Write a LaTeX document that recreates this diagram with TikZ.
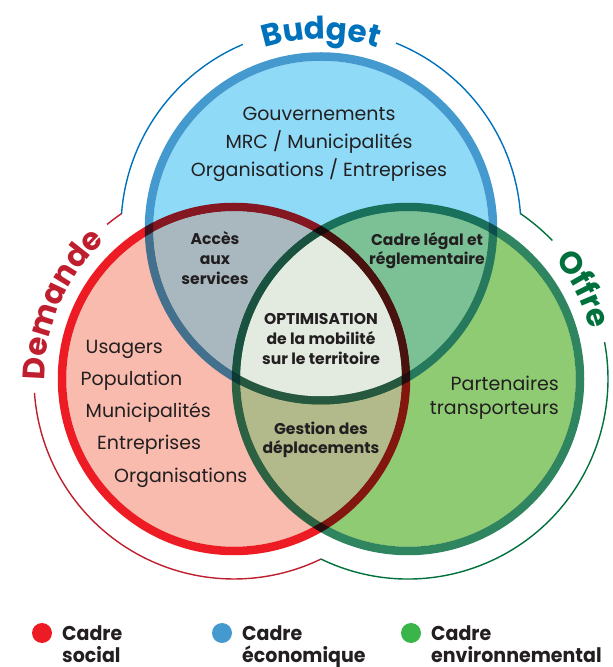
\documentclass[tikz,border=0pt]{standalone}
\usepackage{fontspec}
\setmainfont{Poppins}
\newfontfamily\narrowfont{Poppins}[FakeStretch=0.95]
\usetikzlibrary{decorations.text,positioning}

\definecolor{fillB}{HTML}{8FDAF7}
\definecolor{fillR}{HTML}{F8BBAE}
\definecolor{fillG}{HTML}{8FCB73}
\definecolor{ringB}{HTML}{4499CF}
\definecolor{ringR}{HTML}{ED1C24}
\definecolor{ringG}{HTML}{2E8560}
\definecolor{capBR}{HTML}{A9B8BF}
\definecolor{capBG}{HTML}{7CC196}
\definecolor{capRG}{HTML}{B2BA8C}
\definecolor{capBRG}{HTML}{E3EBE1}
\definecolor{rimB}{HTML}{0072BC}
\definecolor{rimR}{HTML}{BE1E2D}
\definecolor{rimG}{HTML}{00703C}
\definecolor{dotG}{HTML}{39B54A}
\definecolor{ink}{HTML}{231F20}

\tikzset{
	venn/.style={x=1pt,y=1pt},
	ring radius/.store in=\rmid, ring radius=172,
	inner radius/.store in=\rin, inner radius=167.75,
	outer radius/.store in=\rout, outer radius=176.25,
	rim radius/.store in=\rrim, rim radius=200,
	rim text radius/.store in=\rtxt, rim text radius=189,
	ring/.style={draw=#1, line width=8.5pt},
	rim/.style={draw=#1, line width=1.4pt},
	outside of/.style={insert path={(-20,-20) -- (640,-20) -- (640,690) -- (-20,690) -- cycle
		(#1) ++(\rout,0) arc[start angle=0, end angle=-360, radius=\rout]}},
	rim text/.style 2 args={decorate, decoration={text along path, text align=center,
		text={|\bfseries\fontsize{31}{31}\selectfont\color{#1}|#2}}},
	body/.style={font=\fontsize{19}{28}\selectfont, text=ink, inner sep=0pt},
	tag/.style={font=\bfseries\fontsize{15.6}{20}\selectfont, text=ink, inner sep=0pt},
	key/.style={font=\narrowfont\bfseries\fontsize{20}{23}\selectfont, text=ink, inner sep=0pt},
	dot/.style={fill=#1, minimum size=20pt, circle, inner sep=0pt}
}

\begin{document}
\begin{tikzpicture}[venn]
   \useasboundingbox (0,0) rectangle (613,667);
   \coordinate (B) at (321,438.5);
   \coordinate (R) at (234,288);
   \coordinate (G) at (408,288);

   % discs and rings, multiplied
   \begin{scope}[blend mode=multiply]
      \foreach \c in {B,R,G}
         \fill[fill\c] (\c) circle[radius=\rin];
      \foreach \c in {B,R,G}
         \draw[ring=ring\c] (\c) circle[radius=\rmid];
   \end{scope}

   % overlaps
   \foreach \p/\q/\o in {B/R/G, B/G/R, R/G/B} {
      \begin{scope}
         \clip (\p) circle[radius=\rin];
         \clip (\q) circle[radius=\rin];
         \clip[outside of=\o];
         \fill[cap\p\q] (0,0) rectangle (613,667);
      \end{scope}
   }
   \begin{scope}
      \clip (B) circle[radius=\rin];
      \clip (R) circle[radius=\rin];
      \clip (G) circle[radius=\rin];
      \fill[capBRG] (0,0) rectangle (613,667);
   \end{scope}

   % outline round the three
   \foreach \c/\a/\b in {B/4.2/68, B/113/175.8, R/124.2/129.4, R/184/295.8, G/244.2/370.6, G/43.8/55.8}
      \draw[rim=rim\c] (\c) ++(\a:\rrim) arc[start angle=\a, end angle=\b, radius=\rrim];
   \path[rim text={rimB}{Budget}] (B) ++(150:\rtxt) arc[start angle=150, end angle=30, radius=\rtxt];
   \path[rim text={rimR}{Demande}] (R) ++(216.7:\rtxt) arc[start angle=216.7, end angle=96.7, radius=\rtxt];
   \path[rim text={rimG}{Offre}] (G) ++(87:\rtxt) arc[start angle=87, end angle=-33, radius=\rtxt];

   % contents
   \foreach \txt/\yy [count=\i] in {Gouvernements/546, {MRC / Municipalités}/518.7, {Organisations / Entreprises}/490}
      \node[body, anchor=base] (eco\i) at (319,\yy) {\txt};
   \foreach \txt/\xx/\yy [count=\i] in {Usagers/85.5/313, Population/80.5/281, Municipalités/85.5/249, Entreprises/97/217, Organisations/114/184}
      \node[body, anchor=base west] (soc\i) at (\xx,\yy) {\txt};
   \node[body, anchor=base east] (env1) at (559,276) {Partenaires};
   \node[body, anchor=base east] (env2) at (559,252) {transporteurs};

   \foreach \txt/\yy [count=\i] in {Accès/422, aux/402, services/382}
      \node[tag, anchor=base] (acc\i) at (215,\yy) {\txt};
   \foreach \txt/\yy [count=\i] in {Cadre légal et/421, réglementaire/402}
      \node[tag, anchor=base] (leg\i) at (427,\yy) {\txt};
   \foreach \txt/\yy [count=\i] in {OPTIMISATION/342, de la mobilité/322, sur le territoire/302}
      \node[tag, anchor=base] (opt\i) at (321,\yy) {\txt};
   \foreach \txt/\yy [count=\i] in {Gestion des/232, déplacements/213}
      \node[tag, anchor=base] (ges\i) at (321,\yy) {\txt};

   % legend
   \foreach \col/\xx/\txt [count=\i] in {ringR/42/social, ringB/222/économique, dotG/411/environnemental} {
      \node[dot=\col] (dot\i) at (\xx,34) {};
      \node[key, anchor=base west] (cad\i) at (\xx+20,27) {Cadre};
      \node[key, anchor=base west] (sub\i) at (\xx+20,5) {\txt};
   }
\end{tikzpicture}
\end{document}
